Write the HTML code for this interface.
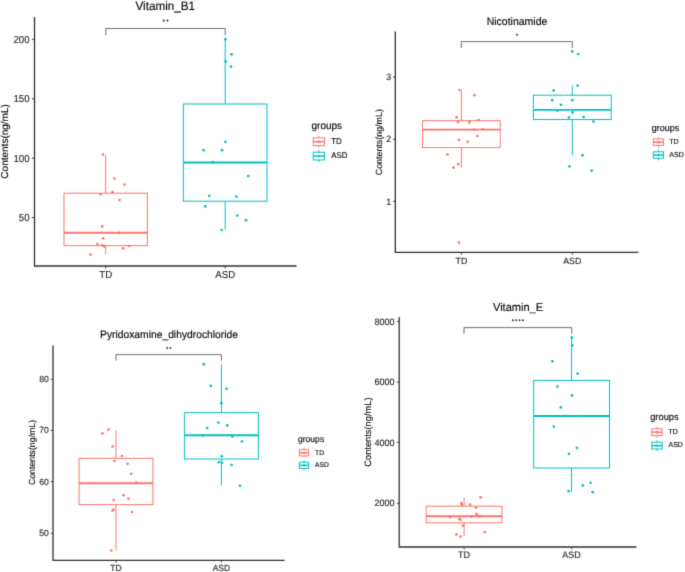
<!DOCTYPE html>
<html><head><meta charset="utf-8"><title>Boxplots</title>
<style>
html,body{margin:0;padding:0;background:#fff;}
svg{display:block;font-family:"Liberation Sans",sans-serif;}
text{stroke-width:0.12px;text-rendering:geometricPrecision;}
</style></head><body>
<svg width="685" height="572" viewBox="0 0 685 572">
<defs><filter id="soft" x="0" y="0" width="685" height="572" filterUnits="userSpaceOnUse" color-interpolation-filters="sRGB"><feConvolveMatrix order="3" kernelMatrix="0 1 0 1 4 1 0 1 0" edgeMode="duplicate" preserveAlpha="true"/></filter></defs>
<g filter="url(#soft)">
<rect width="685" height="572" fill="#fff"/>
<g>
<text transform="translate(165.3 9.7) scale(1 1.04)" font-size="11.7" text-anchor="middle" fill="#000" stroke="#000">Vitamin_B1</text>
<circle cx="163.7" cy="20.55" r="1.05" fill="#2a2a2a"/>
<circle cx="167.4" cy="20.55" r="1.05" fill="#2a2a2a"/>
<path d="M105.8 35V28.5H225.2V35" fill="none" stroke="#4a4a4a" stroke-width="0.8"/>
<line x1="105.7" y1="155" x2="105.7" y2="193.2" stroke="#F8766D" stroke-width="1.0"/>
<line x1="105.7" y1="245.6" x2="105.7" y2="254" stroke="#F8766D" stroke-width="1.0"/>
<rect x="64" y="193.2" width="83.4" height="52.4" fill="none" stroke="#F8766D" stroke-width="1.0"/>
<line x1="64" y1="232.7" x2="147.4" y2="232.7" stroke="#F8766D" stroke-width="1.9"/>
<line x1="225.2" y1="39.2" x2="225.2" y2="104" stroke="#00BFC4" stroke-width="1.0"/>
<line x1="225.2" y1="201.2" x2="225.2" y2="229.6" stroke="#00BFC4" stroke-width="1.0"/>
<rect x="183.4" y="104" width="83.6" height="97.2" fill="none" stroke="#00BFC4" stroke-width="1.0"/>
<line x1="183.4" y1="162.5" x2="267" y2="162.5" stroke="#00BFC4" stroke-width="1.9"/>
<circle cx="103" cy="154.6" r="1.35" fill="#F8766D"/>
<circle cx="114.4" cy="178.6" r="1.35" fill="#F8766D"/>
<circle cx="124.4" cy="184.6" r="1.35" fill="#F8766D"/>
<circle cx="100.6" cy="194.2" r="1.35" fill="#F8766D"/>
<circle cx="112.6" cy="192.2" r="1.35" fill="#F8766D"/>
<circle cx="119.6" cy="200" r="1.35" fill="#F8766D"/>
<circle cx="102.2" cy="226.4" r="1.35" fill="#F8766D"/>
<circle cx="119.2" cy="232.7" r="1.35" fill="#F8766D"/>
<circle cx="103.2" cy="238.4" r="1.35" fill="#F8766D"/>
<circle cx="97.4" cy="244" r="1.35" fill="#F8766D"/>
<circle cx="102.2" cy="245.2" r="1.35" fill="#F8766D"/>
<circle cx="104.2" cy="246.4" r="1.35" fill="#F8766D"/>
<circle cx="123.2" cy="248.4" r="1.35" fill="#F8766D"/>
<circle cx="129" cy="246" r="1.35" fill="#F8766D"/>
<circle cx="90.6" cy="254.6" r="1.35" fill="#F8766D"/>
<circle cx="225.4" cy="39.2" r="1.35" fill="#00BFC4"/>
<circle cx="231.6" cy="54.4" r="1.35" fill="#00BFC4"/>
<circle cx="225.6" cy="61.4" r="1.35" fill="#00BFC4"/>
<circle cx="231" cy="66.6" r="1.35" fill="#00BFC4"/>
<circle cx="225.4" cy="141.8" r="1.35" fill="#00BFC4"/>
<circle cx="203.6" cy="150.2" r="1.35" fill="#00BFC4"/>
<circle cx="222" cy="150.2" r="1.35" fill="#00BFC4"/>
<circle cx="212.6" cy="162.2" r="1.35" fill="#00BFC4"/>
<circle cx="248.2" cy="176" r="1.35" fill="#00BFC4"/>
<circle cx="209.2" cy="195.8" r="1.35" fill="#00BFC4"/>
<circle cx="236.4" cy="196.6" r="1.35" fill="#00BFC4"/>
<circle cx="205.2" cy="206.4" r="1.35" fill="#00BFC4"/>
<circle cx="237.4" cy="215.6" r="1.35" fill="#00BFC4"/>
<circle cx="246" cy="220.2" r="1.35" fill="#00BFC4"/>
<circle cx="221.6" cy="230" r="1.35" fill="#00BFC4"/>
<path d="M34.5 17V266H296.6" fill="none" stroke="#2e2e2e" stroke-width="1.3"/>
<line x1="31.9" y1="217.6" x2="34.5" y2="217.6" stroke="#2e2e2e" stroke-width="0.9"/>
<text transform="translate(29.6 221.07) scale(1 1.04)" font-size="9.7" text-anchor="end" fill="#1e1e1e" stroke="#1e1e1e">50</text>
<line x1="31.9" y1="158.2" x2="34.5" y2="158.2" stroke="#2e2e2e" stroke-width="0.9"/>
<text transform="translate(29.6 161.67) scale(1 1.04)" font-size="9.7" text-anchor="end" fill="#1e1e1e" stroke="#1e1e1e">100</text>
<line x1="31.9" y1="98.8" x2="34.5" y2="98.8" stroke="#2e2e2e" stroke-width="0.9"/>
<text transform="translate(29.6 102.27) scale(1 1.04)" font-size="9.7" text-anchor="end" fill="#1e1e1e" stroke="#1e1e1e">150</text>
<line x1="31.9" y1="39.4" x2="34.5" y2="39.4" stroke="#2e2e2e" stroke-width="0.9"/>
<text transform="translate(29.6 42.87) scale(1 1.04)" font-size="9.7" text-anchor="end" fill="#1e1e1e" stroke="#1e1e1e">200</text>
<line x1="105.7" y1="266" x2="105.7" y2="268.6" stroke="#2e2e2e" stroke-width="0.9"/>
<text transform="translate(105.7 278.2) scale(1 1.04)" font-size="9.7" text-anchor="middle" fill="#1e1e1e" stroke="#1e1e1e">TD</text>
<line x1="225.2" y1="266" x2="225.2" y2="268.6" stroke="#2e2e2e" stroke-width="0.9"/>
<text transform="translate(225.2 278.2) scale(1 1.04)" font-size="9.7" text-anchor="middle" fill="#1e1e1e" stroke="#1e1e1e">ASD</text>
<text transform="translate(5.4 141.4) rotate(-90)" font-size="10" text-anchor="middle" dominant-baseline="central" fill="#000" stroke="#000">Contents(ng/mL)</text>
<text transform="translate(311.5 129) scale(1 1.04)" font-size="10" text-anchor="start" fill="#000" stroke="#000">groups</text>
<line x1="318.9" y1="135.85" x2="318.9" y2="147.55" stroke="#F8766D" stroke-width="1.0"/>
<rect x="313.25" y="137.85" width="11.3" height="7.7" fill="#fff" stroke="#F8766D" stroke-width="1.0"/>
<line x1="313.25" y1="141.7" x2="324.55" y2="141.7" stroke="#F8766D" stroke-width="1.5"/>
<circle cx="318.9" cy="141.7" r="1.2" fill="#F8766D"/>
<line x1="318.9" y1="150.25" x2="318.9" y2="161.95" stroke="#00BFC4" stroke-width="1.0"/>
<rect x="313.25" y="152.25" width="11.3" height="7.7" fill="#fff" stroke="#00BFC4" stroke-width="1.0"/>
<line x1="313.25" y1="156.1" x2="324.55" y2="156.1" stroke="#00BFC4" stroke-width="1.5"/>
<circle cx="318.9" cy="156.1" r="1.2" fill="#00BFC4"/>
<text transform="translate(331.3 143.83) scale(1 1.04)" font-size="7.9" text-anchor="start" fill="#000" stroke="#000">TD</text>
<text transform="translate(331.3 158.23) scale(1 1.04)" font-size="7.9" text-anchor="start" fill="#000" stroke="#000">ASD</text>
</g>
<g>
<text transform="translate(517 25.1) scale(1 1.04)" font-size="10.5" text-anchor="middle" fill="#000" stroke="#000">Nicotinamide</text>
<circle cx="516.9" cy="34.7" r="0.95" fill="#2a2a2a"/>
<path d="M461.3 48V41.6H572.3V48" fill="none" stroke="#4a4a4a" stroke-width="0.8"/>
<line x1="461.4" y1="90.4" x2="461.4" y2="120.6" stroke="#F8766D" stroke-width="1.0"/>
<line x1="461.4" y1="147.6" x2="461.4" y2="167.6" stroke="#F8766D" stroke-width="1.0"/>
<rect x="422.6" y="120.6" width="77.6" height="27" fill="none" stroke="#F8766D" stroke-width="1.0"/>
<line x1="422.6" y1="129.6" x2="500.2" y2="129.6" stroke="#F8766D" stroke-width="1.9"/>
<line x1="572.3" y1="85.6" x2="572.3" y2="95.2" stroke="#00BFC4" stroke-width="1.0"/>
<line x1="572.3" y1="119.5" x2="572.3" y2="155" stroke="#00BFC4" stroke-width="1.0"/>
<rect x="533.4" y="95.2" width="77.8" height="24.3" fill="none" stroke="#00BFC4" stroke-width="1.0"/>
<line x1="533.4" y1="109.9" x2="611.2" y2="109.9" stroke="#00BFC4" stroke-width="1.9"/>
<circle cx="459.6" cy="90" r="1.35" fill="#F8766D"/>
<circle cx="474.4" cy="95.2" r="1.35" fill="#F8766D"/>
<circle cx="456.6" cy="117.4" r="1.35" fill="#F8766D"/>
<circle cx="458" cy="122" r="1.35" fill="#F8766D"/>
<circle cx="469.4" cy="122.2" r="1.35" fill="#F8766D"/>
<circle cx="478.6" cy="120" r="1.35" fill="#F8766D"/>
<circle cx="474" cy="129.6" r="1.35" fill="#F8766D"/>
<circle cx="482.8" cy="129.2" r="1.35" fill="#F8766D"/>
<circle cx="477.4" cy="136" r="1.35" fill="#F8766D"/>
<circle cx="459" cy="139.8" r="1.35" fill="#F8766D"/>
<circle cx="467.8" cy="141.8" r="1.35" fill="#F8766D"/>
<circle cx="447.4" cy="154.4" r="1.35" fill="#F8766D"/>
<circle cx="458.2" cy="164.2" r="1.35" fill="#F8766D"/>
<circle cx="453.6" cy="167.6" r="1.35" fill="#F8766D"/>
<circle cx="459" cy="242.6" r="1.35" fill="#F8766D"/>
<circle cx="572.2" cy="51.4" r="1.35" fill="#00BFC4"/>
<circle cx="578.2" cy="54" r="1.35" fill="#00BFC4"/>
<circle cx="577.6" cy="85.6" r="1.35" fill="#00BFC4"/>
<circle cx="553.6" cy="90.4" r="1.35" fill="#00BFC4"/>
<circle cx="552.2" cy="100.2" r="1.35" fill="#00BFC4"/>
<circle cx="572.4" cy="100.2" r="1.35" fill="#00BFC4"/>
<circle cx="561" cy="104.8" r="1.35" fill="#00BFC4"/>
<circle cx="557.2" cy="110.6" r="1.35" fill="#00BFC4"/>
<circle cx="572.4" cy="112.4" r="1.35" fill="#00BFC4"/>
<circle cx="569" cy="117.4" r="1.35" fill="#00BFC4"/>
<circle cx="583.6" cy="116.8" r="1.35" fill="#00BFC4"/>
<circle cx="593.4" cy="121.6" r="1.35" fill="#00BFC4"/>
<circle cx="582.6" cy="155.2" r="1.35" fill="#00BFC4"/>
<circle cx="569.4" cy="166.4" r="1.35" fill="#00BFC4"/>
<circle cx="591.6" cy="170.6" r="1.35" fill="#00BFC4"/>
<path d="M395.3 31.6V252.4H638.4" fill="none" stroke="#2e2e2e" stroke-width="1.3"/>
<line x1="393" y1="201.4" x2="395.3" y2="201.4" stroke="#2e2e2e" stroke-width="0.9"/>
<text transform="translate(391.2 204.59) scale(1 1.04)" font-size="8.9" text-anchor="end" fill="#1e1e1e" stroke="#1e1e1e">1</text>
<line x1="393" y1="139.3" x2="395.3" y2="139.3" stroke="#2e2e2e" stroke-width="0.9"/>
<text transform="translate(391.2 142.49) scale(1 1.04)" font-size="8.9" text-anchor="end" fill="#1e1e1e" stroke="#1e1e1e">2</text>
<line x1="393" y1="76.9" x2="395.3" y2="76.9" stroke="#2e2e2e" stroke-width="0.9"/>
<text transform="translate(391.2 80.09) scale(1 1.04)" font-size="8.9" text-anchor="end" fill="#1e1e1e" stroke="#1e1e1e">3</text>
<line x1="461.4" y1="252.4" x2="461.4" y2="254.7" stroke="#2e2e2e" stroke-width="0.9"/>
<text transform="translate(461.4 263.7) scale(1 1.04)" font-size="8.8" text-anchor="middle" fill="#1e1e1e" stroke="#1e1e1e">TD</text>
<line x1="572.3" y1="252.4" x2="572.3" y2="254.7" stroke="#2e2e2e" stroke-width="0.9"/>
<text transform="translate(572.3 263.7) scale(1 1.04)" font-size="8.8" text-anchor="middle" fill="#1e1e1e" stroke="#1e1e1e">ASD</text>
<text transform="translate(379 142.2) rotate(-90)" font-size="8.9" text-anchor="middle" dominant-baseline="central" fill="#000" stroke="#000">Contents(ng/mL)</text>
<text transform="translate(651.7 130.8) scale(1 1.04)" font-size="9" text-anchor="start" fill="#000" stroke="#000">groups</text>
<line x1="658.4" y1="136.9" x2="658.4" y2="147.5" stroke="#F8766D" stroke-width="1.0"/>
<rect x="653.3" y="139" width="10.2" height="6.4" fill="#fff" stroke="#F8766D" stroke-width="1.0"/>
<line x1="653.3" y1="142.2" x2="663.5" y2="142.2" stroke="#F8766D" stroke-width="1.5"/>
<circle cx="658.4" cy="142.2" r="1.2" fill="#F8766D"/>
<line x1="658.4" y1="149.7" x2="658.4" y2="160.3" stroke="#00BFC4" stroke-width="1.0"/>
<rect x="653.3" y="151.8" width="10.2" height="6.4" fill="#fff" stroke="#00BFC4" stroke-width="1.0"/>
<line x1="653.3" y1="155" x2="663.5" y2="155" stroke="#00BFC4" stroke-width="1.5"/>
<circle cx="658.4" cy="155" r="1.2" fill="#00BFC4"/>
<text transform="translate(669.3 144.01) scale(1 1.04)" font-size="7" text-anchor="start" fill="#000" stroke="#000">TD</text>
<text transform="translate(669.3 156.81) scale(1 1.04)" font-size="7" text-anchor="start" fill="#000" stroke="#000">ASD</text>
</g>
<g>
<text transform="translate(169 338.4) scale(1 1.04)" font-size="10.3" text-anchor="middle" fill="#000" stroke="#000">Pyridoxamine_dihydrochloride</text>
<circle cx="167.2" cy="348" r="0.95" fill="#2a2a2a"/>
<circle cx="170.5" cy="348" r="0.95" fill="#2a2a2a"/>
<path d="M116 360.6V354.6H221.4V360.6" fill="none" stroke="#4a4a4a" stroke-width="0.8"/>
<line x1="116" y1="430.4" x2="116" y2="458.4" stroke="#F8766D" stroke-width="1.0"/>
<line x1="116" y1="504.6" x2="116" y2="550.4" stroke="#F8766D" stroke-width="1.0"/>
<rect x="79.1" y="458.4" width="73.8" height="46.2" fill="none" stroke="#F8766D" stroke-width="1.0"/>
<line x1="79.1" y1="483.2" x2="152.9" y2="483.2" stroke="#F8766D" stroke-width="1.9"/>
<line x1="221.4" y1="364.4" x2="221.4" y2="412.6" stroke="#00BFC4" stroke-width="1.0"/>
<line x1="221.4" y1="459" x2="221.4" y2="485.4" stroke="#00BFC4" stroke-width="1.0"/>
<rect x="184.4" y="412.6" width="74" height="46.4" fill="none" stroke="#00BFC4" stroke-width="1.0"/>
<line x1="184.4" y1="435.3" x2="258.4" y2="435.3" stroke="#00BFC4" stroke-width="1.9"/>
<circle cx="102.4" cy="433.4" r="1.35" fill="#F8766D"/>
<circle cx="108.6" cy="429.6" r="1.35" fill="#F8766D"/>
<circle cx="112.6" cy="446.6" r="1.35" fill="#F8766D"/>
<circle cx="122" cy="456" r="1.35" fill="#F8766D"/>
<circle cx="114.4" cy="461" r="1.35" fill="#F8766D"/>
<circle cx="127.6" cy="463.8" r="1.35" fill="#F8766D"/>
<circle cx="131.2" cy="473.8" r="1.35" fill="#F8766D"/>
<circle cx="136.4" cy="482.6" r="1.35" fill="#F8766D"/>
<circle cx="123.6" cy="495.2" r="1.35" fill="#F8766D"/>
<circle cx="128.4" cy="498.6" r="1.35" fill="#F8766D"/>
<circle cx="113.6" cy="500" r="1.35" fill="#F8766D"/>
<circle cx="113.4" cy="509.6" r="1.35" fill="#F8766D"/>
<circle cx="112.6" cy="510.6" r="1.35" fill="#F8766D"/>
<circle cx="132" cy="512" r="1.35" fill="#F8766D"/>
<circle cx="111.4" cy="550.6" r="1.35" fill="#F8766D"/>
<circle cx="203.8" cy="364.2" r="1.35" fill="#00BFC4"/>
<circle cx="210.8" cy="385.8" r="1.35" fill="#00BFC4"/>
<circle cx="226.6" cy="388.8" r="1.35" fill="#00BFC4"/>
<circle cx="221.4" cy="403.2" r="1.35" fill="#00BFC4"/>
<circle cx="218.4" cy="422.6" r="1.35" fill="#00BFC4"/>
<circle cx="227.2" cy="425.4" r="1.35" fill="#00BFC4"/>
<circle cx="207.2" cy="428" r="1.35" fill="#00BFC4"/>
<circle cx="202.6" cy="435.4" r="1.35" fill="#00BFC4"/>
<circle cx="232.4" cy="436.4" r="1.35" fill="#00BFC4"/>
<circle cx="242" cy="441.4" r="1.35" fill="#00BFC4"/>
<circle cx="221.8" cy="456.2" r="1.35" fill="#00BFC4"/>
<circle cx="218.8" cy="462.2" r="1.35" fill="#00BFC4"/>
<circle cx="222" cy="462.8" r="1.35" fill="#00BFC4"/>
<circle cx="231.6" cy="465" r="1.35" fill="#00BFC4"/>
<circle cx="240" cy="485.8" r="1.35" fill="#00BFC4"/>
<path d="M53 345.4V560.4H284.6" fill="none" stroke="#2e2e2e" stroke-width="1.3"/>
<line x1="50.8" y1="533.3" x2="53" y2="533.3" stroke="#2e2e2e" stroke-width="0.9"/>
<text transform="translate(48.7 536.38) scale(1 1.04)" font-size="8.6" text-anchor="end" fill="#1e1e1e" stroke="#1e1e1e">50</text>
<line x1="50.8" y1="481.6" x2="53" y2="481.6" stroke="#2e2e2e" stroke-width="0.9"/>
<text transform="translate(48.7 484.68) scale(1 1.04)" font-size="8.6" text-anchor="end" fill="#1e1e1e" stroke="#1e1e1e">60</text>
<line x1="50.8" y1="430.4" x2="53" y2="430.4" stroke="#2e2e2e" stroke-width="0.9"/>
<text transform="translate(48.7 433.48) scale(1 1.04)" font-size="8.6" text-anchor="end" fill="#1e1e1e" stroke="#1e1e1e">70</text>
<line x1="50.8" y1="379.2" x2="53" y2="379.2" stroke="#2e2e2e" stroke-width="0.9"/>
<text transform="translate(48.7 382.28) scale(1 1.04)" font-size="8.6" text-anchor="end" fill="#1e1e1e" stroke="#1e1e1e">80</text>
<line x1="116" y1="560.4" x2="116" y2="562.6" stroke="#2e2e2e" stroke-width="0.9"/>
<text transform="translate(116 571.4) scale(1 1.04)" font-size="8.5" text-anchor="middle" fill="#1e1e1e" stroke="#1e1e1e">TD</text>
<line x1="221.4" y1="560.4" x2="221.4" y2="562.6" stroke="#2e2e2e" stroke-width="0.9"/>
<text transform="translate(221.4 571.4) scale(1 1.04)" font-size="8.5" text-anchor="middle" fill="#1e1e1e" stroke="#1e1e1e">ASD</text>
<text transform="translate(32.2 452.5) rotate(-90)" font-size="8.75" text-anchor="middle" dominant-baseline="central" fill="#000" stroke="#000">Contents(ng/mL)</text>
<text transform="translate(297.9 441.5) scale(1 1.04)" font-size="8.6" text-anchor="start" fill="#000" stroke="#000">groups</text>
<line x1="304" y1="447.8" x2="304" y2="457.8" stroke="#F8766D" stroke-width="1.0"/>
<rect x="299.3" y="449.7" width="9.4" height="6.2" fill="#fff" stroke="#F8766D" stroke-width="1.0"/>
<line x1="299.3" y1="452.8" x2="308.7" y2="452.8" stroke="#F8766D" stroke-width="1.5"/>
<circle cx="304" cy="452.8" r="1.2" fill="#F8766D"/>
<line x1="304" y1="460.4" x2="304" y2="470.4" stroke="#00BFC4" stroke-width="1.0"/>
<rect x="299.3" y="462.3" width="9.4" height="6.2" fill="#fff" stroke="#00BFC4" stroke-width="1.0"/>
<line x1="299.3" y1="465.4" x2="308.7" y2="465.4" stroke="#00BFC4" stroke-width="1.5"/>
<circle cx="304" cy="465.4" r="1.2" fill="#00BFC4"/>
<text transform="translate(315.1 454.5) scale(1 1.04)" font-size="6.7" text-anchor="start" fill="#000" stroke="#000">TD</text>
<text transform="translate(315.1 467.1) scale(1 1.04)" font-size="6.7" text-anchor="start" fill="#000" stroke="#000">ASD</text>
</g>
<g>
<text transform="translate(518 310.5) scale(1 1.04)" font-size="11" text-anchor="middle" fill="#000" stroke="#000">Vitamin_E</text>
<circle cx="512.9" cy="320.2" r="0.95" fill="#2a2a2a"/>
<circle cx="516.2" cy="320.2" r="0.95" fill="#2a2a2a"/>
<circle cx="519.6" cy="320.2" r="0.95" fill="#2a2a2a"/>
<circle cx="522.9" cy="320.2" r="0.95" fill="#2a2a2a"/>
<path d="M464 333.6V327.6H571.8V333.6" fill="none" stroke="#4a4a4a" stroke-width="0.8"/>
<line x1="464.1" y1="497.6" x2="464.1" y2="506.2" stroke="#F8766D" stroke-width="1.0"/>
<line x1="464.1" y1="522.8" x2="464.1" y2="536" stroke="#F8766D" stroke-width="1.0"/>
<rect x="426.2" y="506.2" width="75.8" height="16.6" fill="none" stroke="#F8766D" stroke-width="1.0"/>
<line x1="426.2" y1="516.2" x2="502" y2="516.2" stroke="#F8766D" stroke-width="1.9"/>
<line x1="571.6" y1="337.4" x2="571.6" y2="380.4" stroke="#00BFC4" stroke-width="1.0"/>
<line x1="571.6" y1="468" x2="571.6" y2="492" stroke="#00BFC4" stroke-width="1.0"/>
<rect x="533.7" y="380.4" width="75.8" height="87.6" fill="none" stroke="#00BFC4" stroke-width="1.0"/>
<line x1="533.7" y1="416" x2="609.5" y2="416" stroke="#00BFC4" stroke-width="1.9"/>
<circle cx="480.6" cy="497.4" r="1.35" fill="#F8766D"/>
<circle cx="461.4" cy="503" r="1.35" fill="#F8766D"/>
<circle cx="461.8" cy="504.6" r="1.35" fill="#F8766D"/>
<circle cx="470.2" cy="504.6" r="1.35" fill="#F8766D"/>
<circle cx="476" cy="507.6" r="1.35" fill="#F8766D"/>
<circle cx="476.6" cy="514.2" r="1.35" fill="#F8766D"/>
<circle cx="479.6" cy="516.2" r="1.35" fill="#F8766D"/>
<circle cx="471.6" cy="516.6" r="1.35" fill="#F8766D"/>
<circle cx="450" cy="517.2" r="1.35" fill="#F8766D"/>
<circle cx="459.4" cy="518.8" r="1.35" fill="#F8766D"/>
<circle cx="460.6" cy="519.8" r="1.35" fill="#F8766D"/>
<circle cx="462.8" cy="525.8" r="1.35" fill="#F8766D"/>
<circle cx="484.8" cy="532.2" r="1.35" fill="#F8766D"/>
<circle cx="456.4" cy="534.4" r="1.35" fill="#F8766D"/>
<circle cx="460.6" cy="536.6" r="1.35" fill="#F8766D"/>
<circle cx="571.8" cy="337.4" r="1.35" fill="#00BFC4"/>
<circle cx="572.2" cy="345.4" r="1.35" fill="#00BFC4"/>
<circle cx="552.4" cy="361.4" r="1.35" fill="#00BFC4"/>
<circle cx="577.6" cy="373.6" r="1.35" fill="#00BFC4"/>
<circle cx="557.4" cy="386.6" r="1.35" fill="#00BFC4"/>
<circle cx="572" cy="395.4" r="1.35" fill="#00BFC4"/>
<circle cx="560.8" cy="407.4" r="1.35" fill="#00BFC4"/>
<circle cx="582.2" cy="416" r="1.35" fill="#00BFC4"/>
<circle cx="553.8" cy="426.6" r="1.35" fill="#00BFC4"/>
<circle cx="577" cy="447.8" r="1.35" fill="#00BFC4"/>
<circle cx="569" cy="453.8" r="1.35" fill="#00BFC4"/>
<circle cx="568.6" cy="491.2" r="1.35" fill="#00BFC4"/>
<circle cx="582.8" cy="485.4" r="1.35" fill="#00BFC4"/>
<circle cx="590.6" cy="482.8" r="1.35" fill="#00BFC4"/>
<circle cx="592.6" cy="492.2" r="1.35" fill="#00BFC4"/>
<path d="M399.2 317V547H636.4" fill="none" stroke="#2e2e2e" stroke-width="1.3"/>
<line x1="396.9" y1="503.2" x2="399.2" y2="503.2" stroke="#2e2e2e" stroke-width="0.9"/>
<text transform="translate(394.5 506.42) scale(1 1.04)" font-size="9" text-anchor="end" fill="#1e1e1e" stroke="#1e1e1e">2000</text>
<line x1="396.9" y1="442.4" x2="399.2" y2="442.4" stroke="#2e2e2e" stroke-width="0.9"/>
<text transform="translate(394.5 445.62) scale(1 1.04)" font-size="9" text-anchor="end" fill="#1e1e1e" stroke="#1e1e1e">4000</text>
<line x1="396.9" y1="382" x2="399.2" y2="382" stroke="#2e2e2e" stroke-width="0.9"/>
<text transform="translate(394.5 385.22) scale(1 1.04)" font-size="9" text-anchor="end" fill="#1e1e1e" stroke="#1e1e1e">6000</text>
<line x1="396.9" y1="321.4" x2="399.2" y2="321.4" stroke="#2e2e2e" stroke-width="0.9"/>
<text transform="translate(394.5 324.62) scale(1 1.04)" font-size="9" text-anchor="end" fill="#1e1e1e" stroke="#1e1e1e">8000</text>
<line x1="464.1" y1="547" x2="464.1" y2="549.3" stroke="#2e2e2e" stroke-width="0.9"/>
<text transform="translate(464.1 558.1) scale(1 1.04)" font-size="9" text-anchor="middle" fill="#1e1e1e" stroke="#1e1e1e">TD</text>
<line x1="571.6" y1="547" x2="571.6" y2="549.3" stroke="#2e2e2e" stroke-width="0.9"/>
<text transform="translate(571.6 558.1) scale(1 1.04)" font-size="9" text-anchor="middle" fill="#1e1e1e" stroke="#1e1e1e">ASD</text>
<text transform="translate(367.6 432.1) rotate(-90)" font-size="9.3" text-anchor="middle" dominant-baseline="central" fill="#000" stroke="#000">Contents(ng/mL)</text>
<text transform="translate(650.2 420.1) scale(1 1.04)" font-size="9.3" text-anchor="start" fill="#000" stroke="#000">groups</text>
<line x1="657" y1="426.85" x2="657" y2="437.55" stroke="#F8766D" stroke-width="1.0"/>
<rect x="651.8" y="428.85" width="10.4" height="6.7" fill="#fff" stroke="#F8766D" stroke-width="1.0"/>
<line x1="651.8" y1="432.2" x2="662.2" y2="432.2" stroke="#F8766D" stroke-width="1.5"/>
<circle cx="657" cy="432.2" r="1.2" fill="#F8766D"/>
<line x1="657" y1="440.25" x2="657" y2="450.95" stroke="#00BFC4" stroke-width="1.0"/>
<rect x="651.8" y="442.25" width="10.4" height="6.7" fill="#fff" stroke="#00BFC4" stroke-width="1.0"/>
<line x1="651.8" y1="445.6" x2="662.2" y2="445.6" stroke="#00BFC4" stroke-width="1.5"/>
<circle cx="657" cy="445.6" r="1.2" fill="#00BFC4"/>
<text transform="translate(668.5 434.01) scale(1 1.04)" font-size="7" text-anchor="start" fill="#000" stroke="#000">TD</text>
<text transform="translate(668.5 447.41) scale(1 1.04)" font-size="7" text-anchor="start" fill="#000" stroke="#000">ASD</text>
</g>
</g>
</svg>
</body></html>
